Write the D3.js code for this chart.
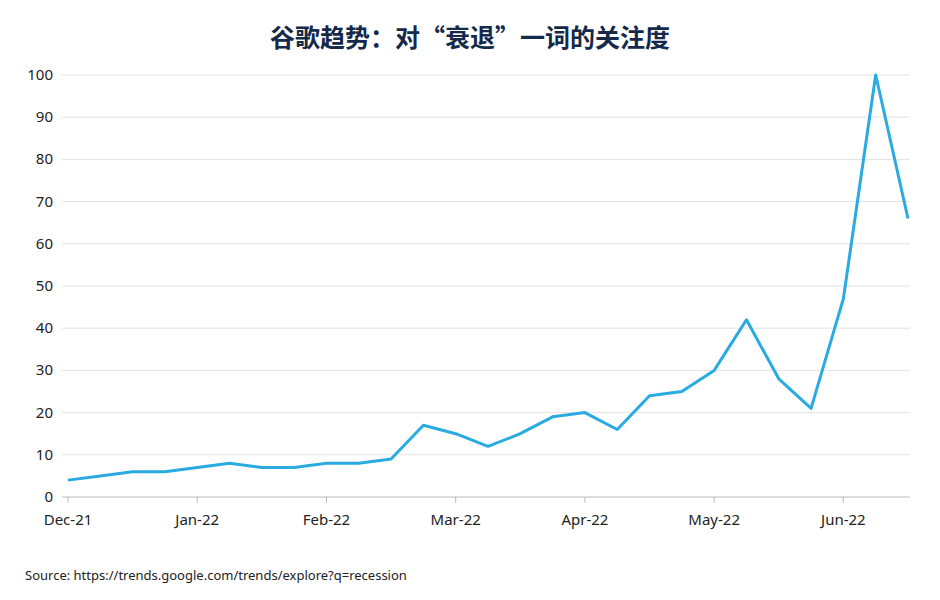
<!DOCTYPE html>
<html>
<head>
<meta charset='utf-8'>
<script src='https://cdn.jsdelivr.net/npm/d3@7'></script>
<style>body{margin:0;background:#fff}</style>
</head>
<body>
<svg width='940' height='600'></svg>
<script>
const values = [4, 5, 6, 6, 7, 8, 7, 7, 8, 8, 9, 17, 15, 12, 15, 19, 20, 16, 24, 25, 30, 42, 28, 21, 47, 100, 66]
const monthLabels = ['Dec-21', 'Jan-22', 'Feb-22', 'Mar-22', 'Apr-22', 'May-22', 'Jun-22']
const yTicks = [0, 10, 20, 30, 40, 50, 60, 70, 80, 90, 100]

const svg = d3.select('svg')
const font = "'Noto Sans', 'Noto Sans CJK SC', sans-serif"

const x = d3.scaleLinear().domain([0, values.length - 1]).range([68, 908])
const y = d3.scaleLinear().domain([0, 100]).range([497, 75])

svg.append('text').attr('x', 470).attr('y', 47).attr('text-anchor', 'middle')
  .attr('font-family', "'Noto Sans CJK SC', sans-serif").attr('font-weight', 'bold')
  .attr('font-size', 25).attr('fill', '#15294b').text('谷歌趋势：对“衰退”一词的关注度')

// gridlines
svg.append('g').selectAll('line').data(yTicks.slice(1)).join('line')
  .attr('x1', 62).attr('x2', 910).attr('y1', d => y(d)).attr('y2', d => y(d))
  .attr('stroke', '#e3e3e3')

svg.append('g').selectAll('text').data(yTicks).join('text')
  .attr('x', 53).attr('y', d => y(d) + 5).attr('text-anchor', 'end')
  .attr('font-family', font).attr('font-size', 15).attr('fill', '#222').text(d => d)

// x axis
svg.append('line').attr('x1', 62).attr('x2', 910).attr('y1', y(0)).attr('y2', y(0)).attr('stroke', '#bbb')
const xt = svg.append('g').selectAll('g').data(monthLabels).join('g')
  .attr('transform', (d, i) => `translate(${x(i * 4)},${y(0)})`)
xt.append('line').attr('y2', 6).attr('stroke', '#bbb')
xt.append('text').attr('y', 28).attr('text-anchor', 'middle')
  .attr('font-family', font).attr('font-size', 15).attr('fill', '#222').text(d => d)

const line = d3.line().x((d, i) => x(i)).y(d => y(d))
svg.append('path').datum(values).attr('d', line).attr('fill', 'none')
  .attr('stroke', '#29abe2').attr('stroke-width', 3).attr('stroke-linejoin', 'round')

svg.append('text').attr('x', 25).attr('y', 580).attr('font-family', font)
  .attr('font-size', 13).attr('fill', '#222').text('Source: https://trends.google.com/trends/explore?q=recession')
</script>
</body>
</html>
